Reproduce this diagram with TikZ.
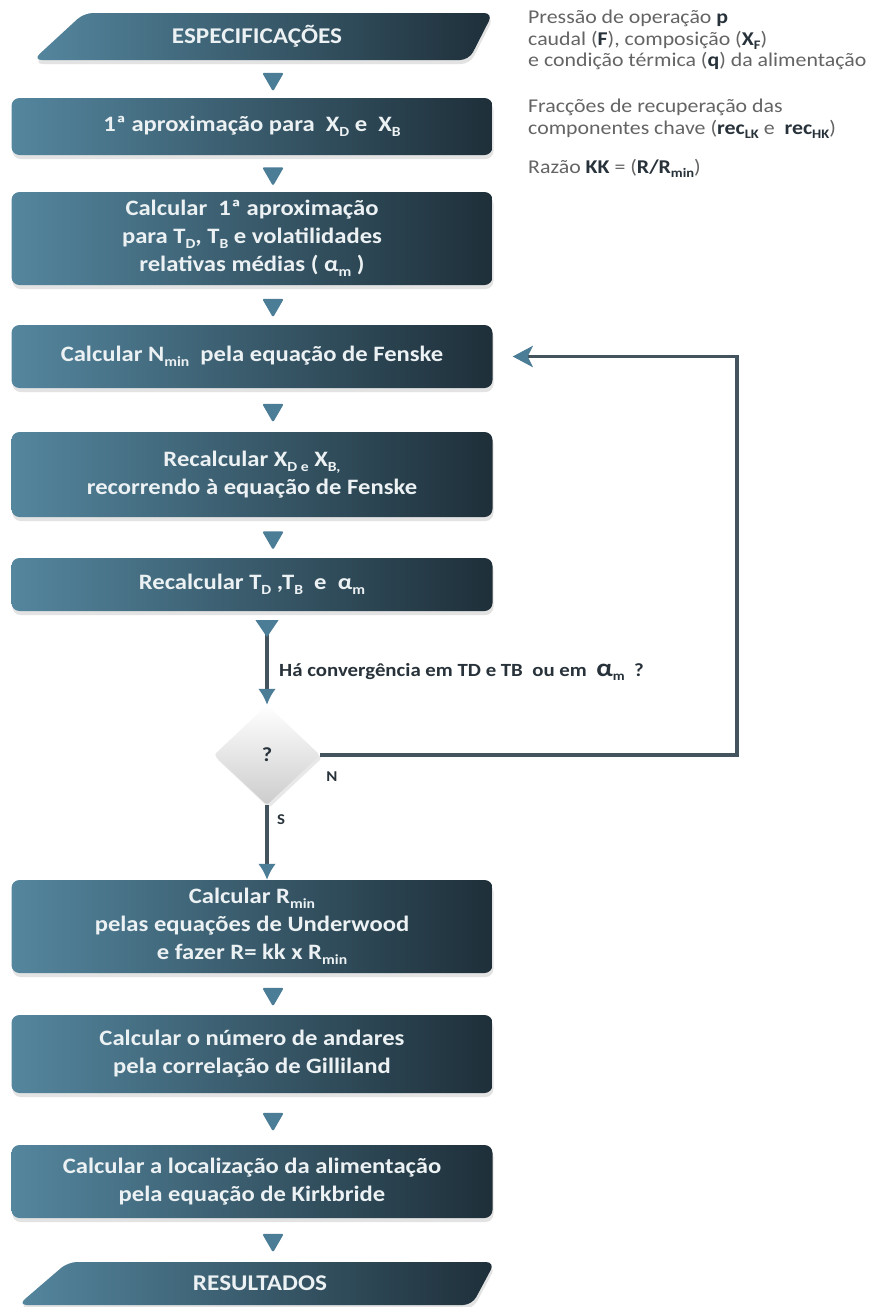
\documentclass[tikz,border=0pt]{standalone}
\usepackage{fontspec}
\setmainfont{Carlito}[FakeStretch=1.12]
\usetikzlibrary{shapes.geometric,arrows.meta,shadows,calc}
\definecolor{boxL}{RGB}{84,134,158}
\definecolor{boxR}{RGB}{30,47,57}
\definecolor{tricol}{RGB}{75,125,150}
\definecolor{linecol}{RGB}{68,84,94}
\definecolor{greytxt}{RGB}{100,100,100}
\definecolor{darktxt}{RGB}{40,50,58}
\definecolor{boxtxt}{RGB}{236,241,243}
\newcommand\sbx[1]{\raisebox{-0.45ex}{\fontsize{14}{14}\selectfont #1}}
\newcommand\sbs[1]{\raisebox{-0.45ex}{\fontsize{13}{13}\selectfont #1}}
\begin{document}
\begin{tikzpicture}[x=1pt,y=-1pt,
  stepbox/.style={rounded corners=8pt, left color=boxL, right color=boxR,
    minimum width=481pt, inner sep=0pt, text=boxtxt, align=center,
    font=\bfseries\fontsize{22}{28}\selectfont,
    drop shadow={opacity=.22, shadow xshift=1pt, shadow yshift=-4pt}},
  bannertext/.style={inner sep=0pt, text=boxtxt, font=\bfseries\fontsize{22.5}{24}\selectfont},
  bannershape/.style={rounded corners=9pt, left color=boxL, right color=boxR,
    drop shadow={opacity=.22, shadow xshift=1pt, shadow yshift=-4pt}},
  tri/.style={regular polygon, regular polygon sides=3, shape border rotate=180,
    fill=tricol, minimum size=25pt, inner sep=0pt, rounded corners=1.5pt},
  conn/.style={draw=linecol, line width=3.5pt},
  side/.style={inner sep=0pt, text=greytxt, align=left, font=\fontsize{19.5}{21.5}\selectfont},
  lab/.style={inner sep=0pt, text=darktxt, font=\bfseries\fontsize{15}{15}\selectfont},
  condtxt/.style={inner sep=0pt, text=darktxt, font=\bfseries\fontsize{18.6}{20}\selectfont},
  qshape/.style={diamond, minimum width=106pt, minimum height=100pt, inner sep=0pt,
    rounded corners=3pt, top color=white, bottom color=gray!40, text=darktxt,
    font=\bfseries\fontsize{20}{20}\selectfont,
    drop shadow={opacity=.18, shadow xshift=2pt, shadow yshift=-3pt}}
]
\useasboundingbox (0,0) rectangle (880,1307);
\fill[white] (0,0) rectangle (880,1307);

% banners
\shade[bannershape] (84,13) -- (493,13) -- (469,60) -- (33,60) -- cycle;
\node[bannertext, minimum height=47pt, minimum width=380pt] (spec) at (257,36.5) {ESPECIFICAÇÕES};
\shade[bannershape] (68,1262) -- (495,1262) -- (472,1305) -- (18,1305) -- cycle;
\node[bannertext, minimum height=43pt, minimum width=380pt] (res) at (260,1283.5) {RESULTADOS};

% step boxes
\node[stepbox, minimum height=57pt] (b1) at (252,126.5) {1ª aproximação para \ X\sbx{D} e \ X\sbx{B}};
\node[stepbox, minimum height=93pt] (b2) at (252,238.5) {Calcular \ 1ª aproximação\\para T\sbx{D}, T\sbx{B} e volatilidades\\relativas médias ( α\sbx{m} )};
\node[stepbox, minimum height=63pt] (b3) at (252,356.5) {Calcular N\sbx{min} \ pela equação de Fenske};
\node[stepbox, minimum height=85pt] (b4) at (252,474.5) {Recalcular X\sbx{D e} X\sbx{B,}\\recorrendo à equação de Fenske};
\node[stepbox, minimum height=53pt] (b5) at (252,584.5) {Recalcular T\sbx{D} ,T\sbx{B} \ e \ α\sbx{m}};
\node[qshape] (q) at (267,755) {?};
\node[stepbox, minimum height=93pt] (b6) at (252,926.5) {Calcular R\sbx{min}\\pelas equações de Underwood\\e fazer R= kk x R\sbx{min}};
\node[stepbox, minimum height=78pt] (b7) at (252,1054) {Calcular o número de andares\\pela correlação de Gilliland};
\node[stepbox, minimum height=73pt] (b8) at (252,1181.5) {Calcular a localização da alimentação\\pela equação de Kirkbride};

% small triangle connectors
\coordinate (ax) at (273,0);
\foreach \a/\b in {spec/b1,b1/b2,b2/b3,b3/b4,b4/b5,b6/b7,b7/b8,b8/res}
  \path (\a.south -| ax) -- (\b.north -| ax) node[midway, tri] {};

% decision flow
\coordinate (s5) at (b5.south -| q);
\draw[conn, {Triangle[reversed,length=17pt,width=22pt,color=tricol]}-{Latex[length=16pt,width=18pt,color=tricol]}]
  ([yshift=-9pt]s5) -- (q.north);
\node[condtxt, anchor=west] (cond) at (279,672) {Há convergência em TD e TB \ ou em \ {\fontsize{25}{25}\selectfont α}\sbs{m} \ ?};
\coordinate (fbx) at (737,0);
\draw[conn, -{Stealth[length=20pt,width=21pt,inset=5pt,color=tricol]}]
  (q.east) -- (q.east -| fbx) -- (b3.east -| fbx) -- ([xshift=20pt]b3.east);
\node[lab] (nlab) at (332,777) {N};
\draw[conn, -{Latex[length=16pt,width=18pt,color=tricol]}] (q.south) -- (b6.north -| q);
\node[lab] (slab) at (281,820) {S};

% side notes
\node[side, anchor=west] (n1) at (528,40) {Pressão de operação \textcolor{darktxt}{\textbf{p}}\\caudal (\textcolor{darktxt}{\textbf{F}}), composição (\textcolor{darktxt}{\textbf{X\sbs{F}}})\\e condição térmica (\textcolor{darktxt}{\textbf{q}}) da alimentação};
\node[side, anchor=west] (n2) at (528,119) {Fracções de recuperação das\\componentes chave (\textcolor{darktxt}{\textbf{rec\sbs{LK}}} e \ \textcolor{darktxt}{\textbf{rec\sbs{HK}}})};
\node[side, anchor=west] (n3) at (528,168) {Razão \textcolor{darktxt}{\textbf{KK}} = (\textcolor{darktxt}{\textbf{R/R\sbs{min}}})};
\end{tikzpicture}
\end{document}
